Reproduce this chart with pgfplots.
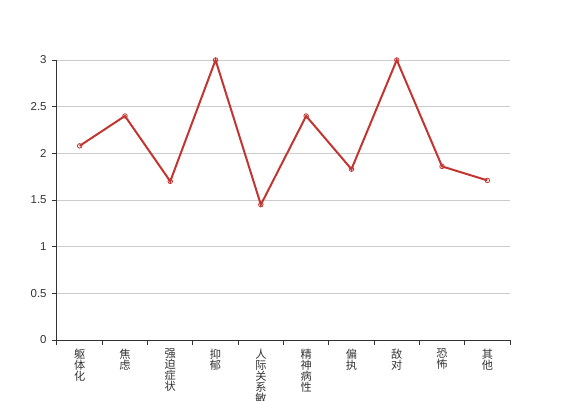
\documentclass[border=0pt]{standalone}
\usepackage{fontspec}
\setmainfont{Liberation Sans}
\newfontfamily\cjk{Noto Sans CJK SC}
\usepackage{pgfplots}
\pgfplotsset{compat=1.18}
\definecolor{lineRed}{HTML}{C23531}
\definecolor{axisGray}{HTML}{333333}
\definecolor{gridGray}{HTML}{CCCCCC}

\begin{document}
\begin{tikzpicture}
\begin{axis}[
  at={(0pt,0pt)}, anchor=south west,
  scale only axis, width=339.75pt, height=210pt,
  xmin=-0.5, xmax=9.5, ymin=0, ymax=3,
  axis lines=left,
  axis line style={-, draw=axisGray, line width=0.75pt},
  tick align=outside,
  major tick length=3.75pt,
  tick style={draw=axisGray, line width=0.75pt},
  ytick={0,0.5,1,1.5,2,2.5,3},
  /pgf/number format/assume math mode=true,
  yticklabel style={font=\fontsize{8.6}{9}\selectfont, text=axisGray, xshift=-0.5pt},
  ymajorgrids, major grid style={draw=gridGray, line width=0.75pt},
  xtick={-0.5,0.5,1.5,2.5,3.5,4.5,5.5,6.5,7.5,8.5,9.5},
  xticklabels={},
  extra x ticks={0,1,2,3,4,5,6,7,8,9},
  extra x tick labels={{躯\\体\\化},{焦\\虑},{强\\迫\\症\\状},{抑\\郁},{人\\际\\关\\系\\敏\\感},{精\\神\\病\\性},{偏\\执},{敌\\对},{恐\\怖},{其\\他}},
  extra x tick style={major tick length=0pt, xticklabel style={font=\cjk\fontsize{8.4}{8.3}\selectfont, text=axisGray, align=center, anchor=north, yshift=-3pt}},
  clip=false,
]
\addplot[lineRed, line width=1.5pt, mark=o, mark size=1.7pt,
  mark options={fill=white, line width=0.6pt}]
  coordinates {
  (0,2.08) (1,2.40) (2,1.70) (3,3.00) (4,1.45)
  (5,2.40) (6,1.83) (7,3.00) (8,1.86) (9,1.71)
};
\end{axis}
\pgfresetboundingbox
\path[use as bounding box] (-42.75pt,-45pt) rectangle (382.5pt,255pt);
\end{tikzpicture}
\end{document}
